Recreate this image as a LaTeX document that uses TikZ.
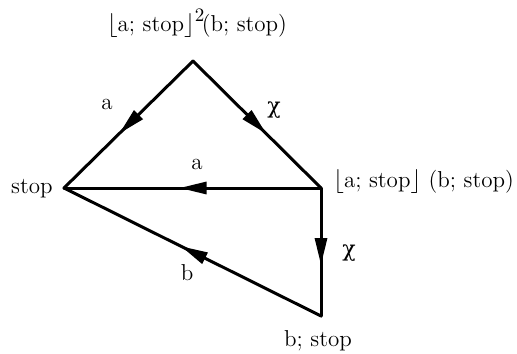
\documentclass[tikz,border=0pt]{standalone}
\usepackage{fontspec}
\newfontfamily\greekfont{DejaVu Serif}
\usetikzlibrary{arrows.meta, decorations.markings}

\begin{document}
\begin{tikzpicture}[
  x=0.5pt, y=-0.5pt,
  every node/.style={font=\fontsize{11.5}{14}\selectfont, inner sep=0pt},
  tr/.style={line width=1.5pt, line cap=round, postaction={decorate},
    decoration={markings, mark=at position 0.5 with {\arrow[xshift=6.5pt]{Triangle[length=13.5pt, width=6pt]}}}},
  chi/.style={font=\greekfont\fontsize{11}{13}\selectfont}
]
  \useasboundingbox (0,0) rectangle (517,353);

  % states
  \coordinate (s0) at (193,61);
  \coordinate (s1) at (64,188);
  \coordinate (s2) at (321,188);
  \coordinate (s3) at (321,316);

  \node[anchor=base] (t0) at (197,32) {$\lfloor$a; stop$\rfloor$\rlap{\raisebox{5pt}{\fontsize{9.5}{11}\selectfont 2}}\kern3.5pt(b; stop)};
  \node[anchor=base east] (t1) at (53,193) {stop};
  \node[anchor=base west] (t2) at (333,187) {$\lfloor$a; stop$\rfloor$ (b; stop)};
  \node[anchor=base] (t3) at (318,346) {b; stop};

  % transitions
  \foreach \a/\b in {s0/s1, s0/s2, s2/s1, s2/s3, s3/s1}
    \draw[tr] (\a) -- (\b);

  \node (l01) at (107,104) {a};
  \node[chi] (l02) at (274,110) {χ};
  \node (l21) at (197,164) {a};
  \node[chi] (l23) at (349,253) {χ};
  \node (l31) at (187,273) {b};
\end{tikzpicture}
\end{document}
